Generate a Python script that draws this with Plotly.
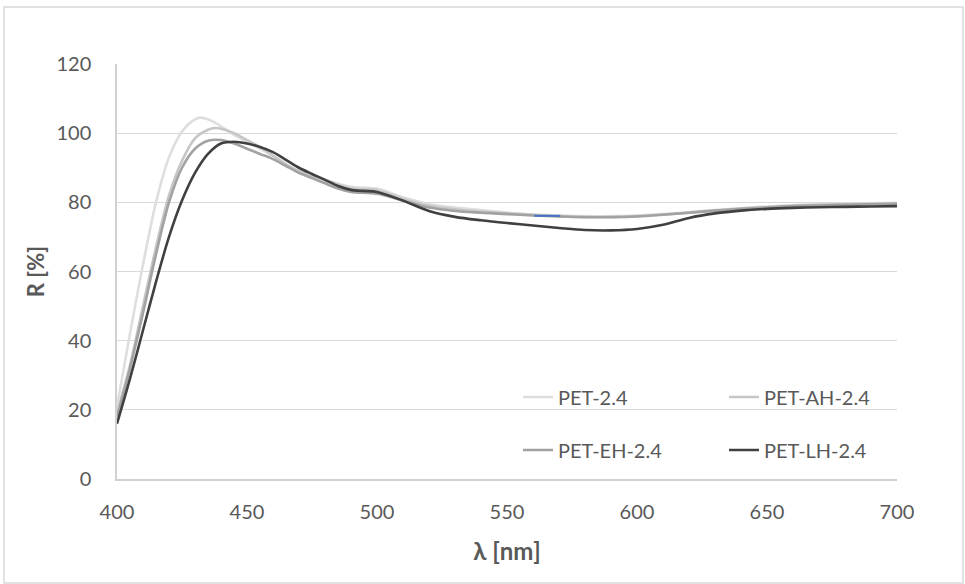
import plotly.graph_objects as go

# ---- data ----
wl_pet = [400, 405, 410, 415, 420, 425, 430, 432, 435, 440, 445, 450, 455, 460, 465, 470, 480, 490, 500,
          510, 520, 530, 540, 550, 560, 570, 580, 590, 600, 610, 620, 630, 640, 650, 660, 680, 700]
r_pet = [21, 42, 62, 80, 93, 100.5, 104, 104.5, 104, 102, 99.5, 97.5, 95.5, 93.5, 91, 89, 86.5, 84.5, 84,
         81.5, 79.5, 78.5, 77.8, 77, 76.5, 76.2, 76, 76, 76.2, 76.6, 77.2, 77.8, 78.3, 78.8, 79.2, 79.6, 79.9]

wl_ah = [400, 405, 410, 415, 420, 425, 430, 435, 438, 440, 445, 450, 455, 460, 465, 470, 480, 490, 500,
         510, 520, 530, 540, 550, 560, 570, 580, 590, 600, 610, 620, 630, 640, 650, 660, 680, 700]
r_ah = [19, 33, 50, 67, 82, 92, 98.5, 101, 101.5, 101.3, 100, 98, 96, 93.5, 91, 89, 86.5, 84, 83.5,
        81, 79, 78, 77.3, 76.8, 76.4, 76, 75.8, 75.8, 76, 76.5, 77, 77.6, 78.2, 78.6, 79, 79.4, 79.7]

wl_eh = [400, 405, 410, 415, 420, 425, 430, 435, 440, 445, 450, 455, 460, 465, 470, 475, 480, 485, 490, 500,
         510, 520, 530, 540, 550, 560, 570, 580, 590, 600, 610, 620, 630, 640, 650, 660, 680, 700]
r_eh = [18, 32, 48, 65, 80, 90, 95.5, 97.8, 98, 97, 95.5, 94, 92.5, 90.5, 88.5, 87, 85.5, 84, 83, 82.5,
        80.5, 78.5, 77.5, 77, 76.6, 76.2, 75.9, 75.7, 75.7, 75.9, 76.4, 77, 77.6, 78.1, 78.5, 78.9, 79.3, 79.6]

wl_lh = [400, 405, 410, 415, 420, 425, 430, 435, 440, 445, 450, 455, 460, 465, 470, 475, 480, 485, 490, 495, 500,
         510, 520, 530, 540, 550, 560, 570, 580, 590, 600, 610, 620, 630, 640, 650, 660, 670, 680, 690, 700]
r_lh = [16, 29, 43, 57, 70, 80.5, 88.5, 94, 97, 97.5, 97, 96, 94.5, 92.3, 90, 88.2, 86.5, 84.7, 83.6, 83.3, 83,
        80.5, 77.5, 75.8, 74.8, 74, 73.3, 72.6, 72, 71.9, 72.3, 73.5, 75.5, 76.8, 77.6, 78.1, 78.4, 78.6, 78.7, 78.8, 78.9]

# small blue segment visible in the original
wl_blue = [560.5, 570.5]
r_blue = [76.1, 76.1]

series = [
    ("PET-2.4", wl_pet, r_pet, "#DEDEDE", "legend"),
    ("PET-AH-2.4", wl_ah, r_ah, "#C6C6C6", "legend"),
    ("PET-EH-2.4", wl_eh, r_eh, "#A2A2A2", "legend2"),
    ("PET-LH-2.4", wl_lh, r_lh, "#404040", "legend2"),
]

x_ticks = [400, 450, 500, 550, 600, 650, 700]
y_ticks = [0, 20, 40, 60, 80, 100, 120]

FONT = "Lato"
GREY = "#595959"

fig = go.Figure()
for name, x, y, col, lg in series:
    fig.add_trace(go.Scatter(x=x, y=y, mode="lines", name=name,
                             line=dict(color=col, width=2.6, shape="spline", smoothing=0.9),
                             legend=lg))
fig.add_trace(go.Scatter(x=wl_blue, y=r_blue, mode="lines", showlegend=False,
                         line=dict(color="#4472C4", width=2)))

W, H = 965, 584
L, R, T, B = 117, 68, 64, 105
pw, ph = W - L - R, H - T - B

leg_common = dict(orientation="h", bgcolor="rgba(0,0,0,0)", font=dict(family=FONT, size=20, color=GREY),
                  entrywidth=161, entrywidthmode="pixels", xanchor="left", yanchor="middle",
                  itemwidth=30, traceorder="normal")

fig.update_layout(
    width=W, height=H,
    margin=dict(l=L, r=R, t=T, b=B, autoexpand=False),
    paper_bgcolor="white", plot_bgcolor="white",
    font=dict(family=FONT, color=GREY),
    legend=dict(x=(518 - L) / pw, y=(479 - 397) / ph, **leg_common),
    legend2=dict(x=(518 - L) / pw, y=(479 - 450) / ph, **leg_common),
    xaxis=dict(range=[400, 700], tickvals=x_ticks, ticktext=[str(v) for v in x_ticks],
               showgrid=False, zeroline=False, showline=True, linecolor="#D0D0D0", linewidth=1.5,
               ticks="", tickfont=dict(family=FONT, size=20, color=GREY), ticklabelstandoff=14,
               title=dict(text="<b>λ [nm]</b>", font=dict(family=FONT, size=24, color=GREY), standoff=21)),
    yaxis=dict(range=[0, 120], tickvals=y_ticks, ticktext=[str(v) for v in y_ticks],
               showgrid=True, gridcolor="#D9D9D9", gridwidth=1.2, zeroline=False,
               showline=True, linecolor="#D0D0D0", linewidth=1.5,
               ticks="", tickfont=dict(family=FONT, size=20, color=GREY), ticklabelstandoff=20,
               title=dict(text="<b>R [%]</b>", font=dict(family=FONT, size=22, color=GREY), standoff=6)),
    shapes=[dict(type="rect", xref="paper", yref="paper",
                 x0=(4 - L) / pw, x1=(963 - L) / pw, y0=(479 - 583) / ph, y1=(479 - 7) / ph,
                 line=dict(color="#D9D9D9", width=1.5), fillcolor="rgba(0,0,0,0)", layer="below")],
)

fig.write_html("out.html", config={"displayModeBar": False},
               post_script="document.body.style.margin='0';document.body.style.overflow='hidden';")
